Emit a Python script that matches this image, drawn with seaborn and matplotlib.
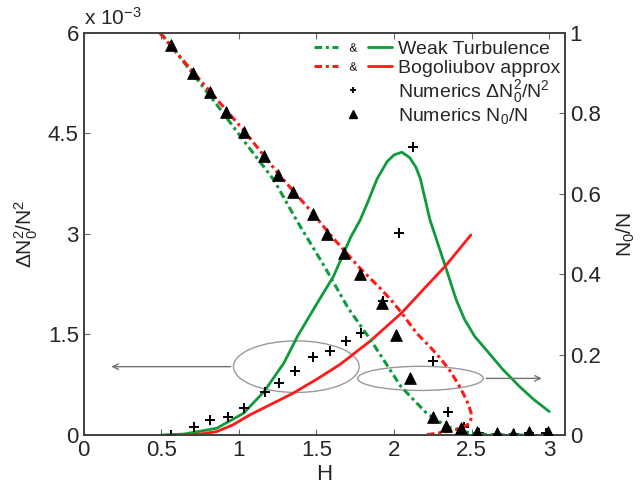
import matplotlib
matplotlib.use("Agg")
import matplotlib.pyplot as plt
import seaborn as sns
from matplotlib.lines import Line2D
from matplotlib.patches import Ellipse
from matplotlib.path import Path
from matplotlib.legend_handler import HandlerTuple
from matplotlib.textpath import TextPath

# ---- data (left axis in units of 1e-3) ----
# numerics dN0^2/N^2
H_plus = [0.56, 0.71, 0.815, 0.93, 1.035, 1.165, 1.26, 1.36, 1.48, 1.585, 1.69, 1.79,
          1.93, 2.03, 2.12, 2.25, 2.35, 2.45, 2.55, 2.66, 2.77, 2.87, 2.98]
dn_plus = [0.0, 0.115, 0.225, 0.275, 0.41, 0.64, 0.775, 0.95, 1.165, 1.255, 1.4, 1.525,
           2.0, 3.01, 4.3, 1.10, 0.35, 0.12, 0.03, 0.02, 0.02, 0.03, 0.03]

# numerics N0/N
H_tri = [0.56, 0.707, 0.815, 0.916, 1.035, 1.163, 1.253, 1.346, 1.475, 1.57, 1.675, 1.78,
         1.92, 2.01, 2.105, 2.25, 2.335, 2.43, 2.535, 2.66, 2.765, 2.87, 2.99]
n0_tri = [0.970, 0.901, 0.854, 0.804, 0.754, 0.694, 0.647, 0.604, 0.549, 0.50, 0.452, 0.40,
          0.328, 0.249, 0.141, 0.044, 0.022, 0.017, 0.007, 0.004, 0.003, 0.007, 0.007]

# weak turbulence
H_wt_n0 = [0.497, 0.70, 0.87, 1.035, 1.226, 1.37, 1.55, 1.705, 1.85, 2.045, 2.21, 2.34,
           2.45, 2.55, 2.65, 2.85]
wt_n0 = [1.0, 0.90, 0.815, 0.73, 0.634, 0.535, 0.42, 0.315, 0.236, 0.12, 0.054, 0.021,
         0.008, 0.002, 0.0, 0.0]
H_wt_dn = [0.50, 0.647, 0.856, 1.03, 1.163, 1.29, 1.378, 1.50, 1.61, 1.72, 1.78, 1.826,
           1.89, 1.955, 2.00, 2.05, 2.10, 2.14, 2.17, 2.23, 2.33, 2.40, 2.454, 2.52,
           2.605, 2.70, 2.81, 2.90, 3.0]
wt_dn = [0.0, 0.015, 0.10, 0.325, 0.65, 1.075, 1.475, 1.95, 2.37, 2.95, 3.2, 3.45,
         3.82, 4.08, 4.18, 4.22, 4.14, 4.0, 3.82, 3.22, 2.52, 2.02, 1.725, 1.47,
         1.24, 0.98, 0.72, 0.53, 0.35]

# Bogoliubov
H_bg_n0 = [0.49, 0.70, 1.035, 1.253, 1.475, 1.59, 1.78, 1.91, 1.98, 2.05, 2.146, 2.23,
           2.30, 2.36, 2.41, 2.45, 2.48, 2.50, 2.49, 2.45, 2.38, 2.30, 2.20]
bg_n0 = [1.0, 0.905, 0.756, 0.65, 0.552, 0.4975, 0.415, 0.365, 0.336, 0.303, 0.253, 0.22,
         0.19, 0.16, 0.129, 0.10, 0.075, 0.05, 0.03, 0.02, 0.012, 0.006, 0.0]
H_bg_dn = [0.65, 0.75, 0.856, 0.96, 1.07, 1.2, 1.35, 1.5, 1.65, 1.845, 2.05, 2.2, 2.33, 2.495]
bg_dn = [0.0, 0.015, 0.05, 0.15, 0.30, 0.45, 0.625, 0.83, 1.05, 1.40, 1.825, 2.2, 2.52, 2.985]

GREEN = "#0f9a3c"
RED = "#ff1a1a"
DASHDOT = (0, (2.5, 1.2, 1, 1.2))

sns.set_style("ticks")
plt.rcParams['font.family'] = ['Liberation Sans', 'DejaVu Sans']
plt.rcParams['mathtext.fontset'] = 'custom'
plt.rcParams['mathtext.rm'] = 'Liberation Sans'
plt.rcParams['mathtext.it'] = 'Liberation Sans'

fig = plt.figure(figsize=(6.44, 4.91), dpi=100)
ax = fig.add_axes([0.130, 0.114, 0.747, 0.819])
ax2 = ax.twinx()

# N0/N curves on right axis
sns.lineplot(x=H_wt_n0, y=wt_n0, sort=False, estimator=None, ax=ax2, color=GREEN, lw=2.2,
             linestyle=DASHDOT)
sns.lineplot(x=H_bg_n0, y=bg_n0, sort=False, estimator=None, ax=ax2, color=RED, lw=2.2,
             linestyle=DASHDOT)
sns.scatterplot(x=H_tri, y=n0_tri, ax=ax2, marker="^", color="black", s=70, edgecolor="black", zorder=5)

# dN0^2/N^2 curves on left axis
sns.lineplot(x=H_wt_dn, y=wt_dn, sort=False, estimator=None, ax=ax, color=GREEN, lw=2)
sns.lineplot(x=H_bg_dn, y=bg_dn, sort=False, estimator=None, ax=ax, color=RED, lw=2)
sns.scatterplot(x=H_plus, y=dn_plus, ax=ax, marker="+", color="black", s=45, linewidth=1.4, zorder=5)

ax.set_xlim(0, 3.1)
ax.set_ylim(0, 6)
ax2.set_ylim(0, 1)
ax.set_xticks([0, 0.5, 1, 1.5, 2, 2.5, 3])
ax.set_xticklabels(["0", "0.5", "1", "1.5", "2", "2.5", "3"])
ax.set_yticks([0, 1.5, 3, 4.5, 6])
ax.set_yticklabels(["0", "1.5", "3", "4.5", "6"])
ax2.set_yticks([0, 0.2, 0.4, 0.6, 0.8, 1])
ax2.set_yticklabels(["0", "0.2", "0.4", "0.6", "0.8", "1"])

ax.tick_params(axis="both", direction="in", labelsize=16, length=4, color="0.4", top=True)
ax2.tick_params(axis="y", direction="in", labelsize=16, length=4, color="0.4")
for a in (ax, ax2):
    for sp in a.spines.values():
        sp.set_color("0.25")
        sp.set_linewidth(1.2)

ax.set_xlabel("H", fontsize=16, labelpad=2)
ax.set_ylabel(r"$\Delta$N$_0^2$/N$^2$", fontsize=15, labelpad=6)
ax2.set_ylabel("N$_0$/N", fontsize=15, labelpad=10)
ax.text(0.0, 1.01, r"x 10$^{-3}$", transform=ax.transAxes, fontsize=15, va="bottom", ha="left")

# ellipses + arrows
ax.add_patch(Ellipse((1.37, 1.02), 0.81, 0.77, fill=False, edgecolor="0.6", lw=1))
ax.annotate("", xy=(0.16, 1.02), xytext=(0.965, 1.02),
            arrowprops=dict(arrowstyle="->", color="0.45", lw=1))
ax.add_patch(Ellipse((2.17, 0.845), 0.81, 0.36, fill=False, edgecolor="0.6", lw=1))
ax.annotate("", xy=(2.97, 0.845), xytext=(2.575, 0.845),
            arrowprops=dict(arrowstyle="->", color="0.45", lw=1))

# legend ("&" glyph as a centred marker between the two line styles)
tp = TextPath((0, 0), "&")
ext = tp.get_extents()
amp_path = Path(tp.vertices - [ext.x0 + ext.width / 2, ext.y0 + ext.height / 2], tp.codes)
amp = Line2D([], [], ls="none", marker=amp_path, color="black", ms=6, mew=0)
h_wt = (Line2D([], [], color=GREEN, lw=2.2, ls=DASHDOT), amp, Line2D([], [], color=GREEN, lw=2))
h_bg = (Line2D([], [], color=RED, lw=2.2, ls=DASHDOT), amp, Line2D([], [], color=RED, lw=2))
h_plus = Line2D([], [], ls="none", marker="+", color="black", ms=5, mew=1.3)
h_tri = Line2D([], [], ls="none", marker="^", color="black", ms=6)
ax.legend([h_wt, h_bg, h_plus, h_tri],
          ["Weak Turbulence", "Bogoliubov approx",
           r"Numerics $\Delta$N$_0^2$/N$^2$", "Numerics N$_0$/N"],
          handler_map={tuple: HandlerTuple(ndivide=None, pad=0.15)},
          loc="upper right", bbox_to_anchor=(1.015, 1.01), frameon=False, fontsize=14,
          handlelength=4.0, handletextpad=0.3, labelspacing=0.05, borderaxespad=0.2)

fig.savefig("out.png", dpi=100)
